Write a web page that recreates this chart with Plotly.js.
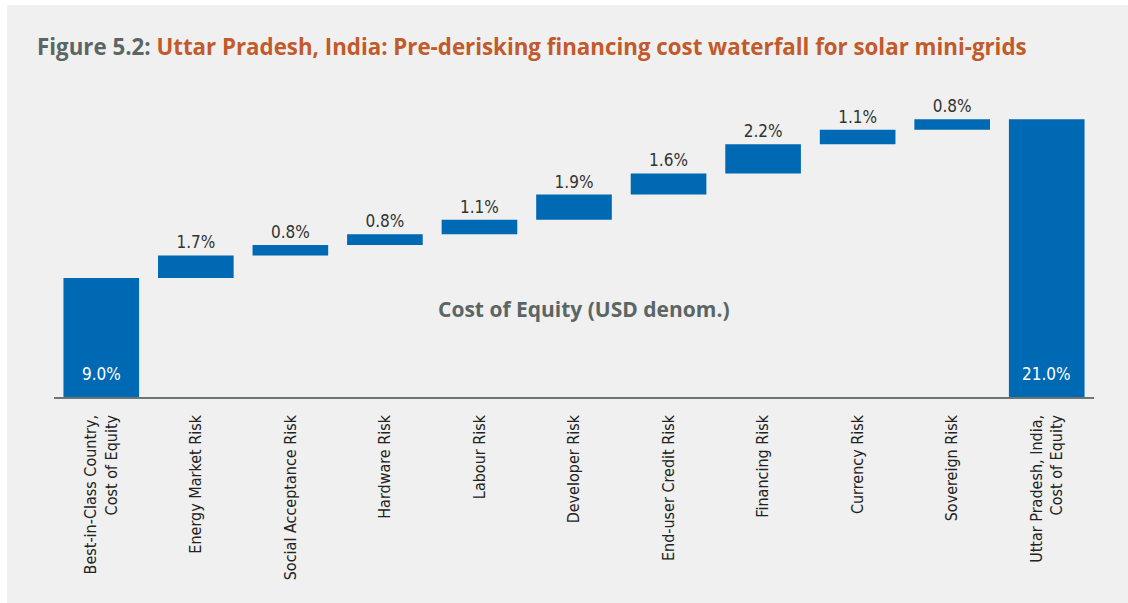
<!DOCTYPE html>
<html>
<head>
<meta charset="utf-8">
<script src="https://cdn.plot.ly/plotly-3.0.1.min.js"></script>
<style>
  html, body { margin: 0; padding: 0; background: #ffffff; width: 1128px; height: 603px; overflow: hidden; }
  #chart { position: absolute; left: 7px; top: 5px; width: 1121px; height: 598px; }
</style>
</head>
<body>
<div id="chart"></div>
<script>
const categories = [
  "Best-in-Class Country,<br>Cost of Equity",
  "Energy Market Risk",
  "Social Acceptance Risk",
  "Hardware Risk",
  "Labour Risk",
  "Developer Risk",
  "End-user Credit Risk",
  "Financing Risk",
  "Currency Risk",
  "Sovereign Risk",
  "Uttar Pradesh, India,<br>Cost of Equity"
];
const values = [9.0, 1.7, 0.8, 0.8, 1.1, 1.9, 1.6, 2.2, 1.1, 0.8, 21.0];
const measures = ["absolute", "relative", "relative", "relative", "relative", "relative",
                  "relative", "relative", "relative", "relative", "total"];
const labels = values.map(v => v.toFixed(1) + "%");

const BLUE = "#0069b4";
const labelFont = "'DejaVu Sans Condensed', 'Liberation Sans Narrow', sans-serif";

const trace = {
  type: "waterfall",
  x: categories,
  y: values,
  measure: measures,
  text: measures.map((m, i) => m === "relative" ? labels[i] : ""),
  textinfo: "text",
  textposition: measures.map(m => m === "relative" ? "outside" : "none"),
  constraintext: "none",
  cliponaxis: false,
  outsidetextfont: { family: labelFont, size: 17, color: "#333333" },
  increasing: { marker: { color: BLUE } },
  decreasing: { marker: { color: BLUE } },
  totals: { marker: { color: BLUE } },
  connector: { visible: false },
  hoverinfo: "none"
};

const insideAnnotations = measures
  .map((m, i) => ({ m, i }))
  .filter(o => o.m !== "relative")
  .map(o => ({
    x: categories[o.i], y: 0, xref: "x", yref: "y",
    text: labels[o.i], showarrow: false,
    yanchor: "middle", yshift: 23,
    font: { family: labelFont, size: 17, color: "#ffffff" }
  }));

const layout = {
  width: 1121,
  height: 598,
  paper_bgcolor: "#eff0ef",
  plot_bgcolor: "#eff0ef",
  margin: { l: 47, r: 34, t: 101, b: 206 },
  showlegend: false,
  bargap: 0.24,
  title: {
    text: "<b><span style='color:#5b6664'>Figure 5.2: </span>Uttar Pradesh, India: Pre-derisking financing cost waterfall for solar mini-grids</b>",
    font: { family: "'Open Sans', 'Noto Sans', sans-serif", size: 22.3, color: "#c25a2b" },
    xref: "container", yref: "container",
    x: 30 / 1121, xanchor: "left",
    y: 1 - 42 / 598, yanchor: "middle"
  },
  xaxis: {
    type: "category",
    tickangle: -90,
    tickfont: { family: labelFont, size: 16, color: "#222222" },
    ticklabelstandoff: 10,
    showline: true,
    linecolor: "#6e7674",
    linewidth: 1.5,
    ticks: "",
    showgrid: false,
    zeroline: false,
    fixedrange: true
  },
  yaxis: {
    range: [0, 22],
    visible: false,
    showgrid: false,
    zeroline: false,
    fixedrange: true
  },
  annotations: [{
    text: "<b>Cost of Equity (USD denom.)</b>",
    xref: "paper", yref: "paper",
    x: 0.51, y: (397 - 309) / 291,
    xanchor: "center", yanchor: "middle",
    showarrow: false,
    font: { family: "'Open Sans', 'Noto Sans', sans-serif", size: 21, color: "#5b6664" }
  }].concat(insideAnnotations)
};

Plotly.newPlot("chart", [trace], layout, { displayModeBar: false, staticPlot: true });
</script>
</body>
</html>
